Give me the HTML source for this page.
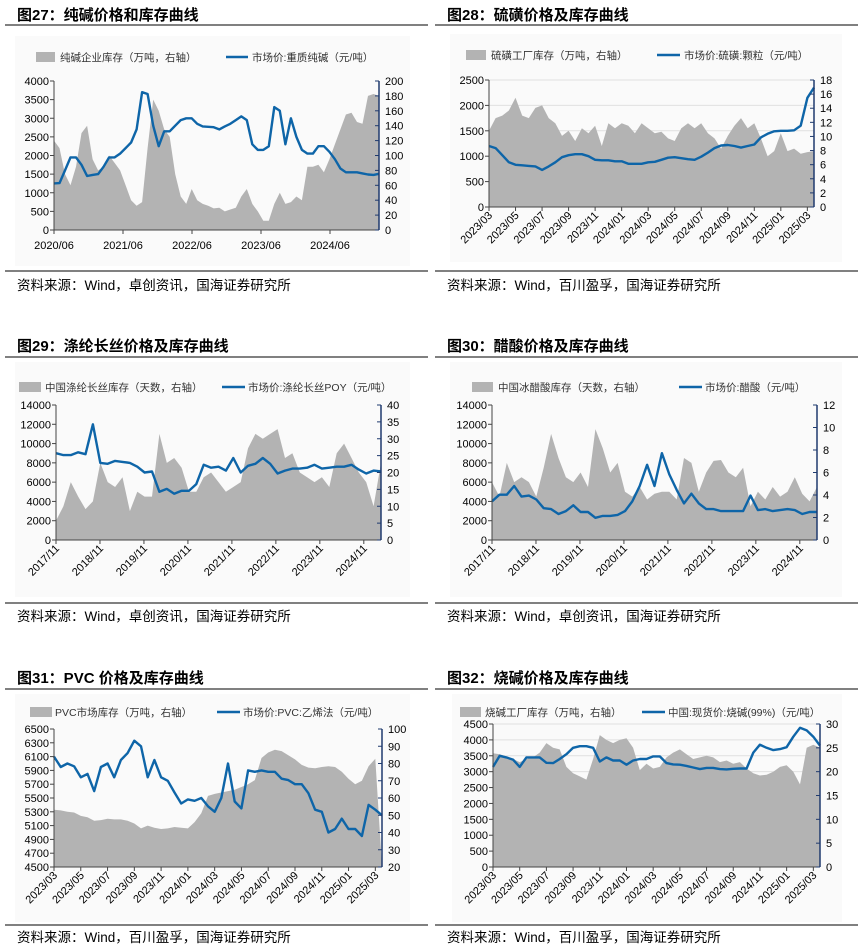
<!DOCTYPE html>
<html><head><meta charset="utf-8">
<style>
html,body{margin:0;padding:0;background:#fff;}
svg{display:block;font-family:"Liberation Sans","Noto Sans CJK SC",sans-serif;}
.t{font-weight:bold;font-size:15px;fill:#000;}
.src{font-size:13.5px;fill:#000;}
.lg{font-size:10.5px;fill:#333;}
.tk{font-size:11px;fill:#000;}
</style></head>
<body>
<svg id="c" width="861" height="947" viewBox="0 0 861 947" xmlns="http://www.w3.org/2000/svg"></svg>
<script>
// ---- Panel 27: soda ash ----
const p27Labels=["2020/06","2021/06","2022/06","2023/06","2024/06"];
const p27Price=[1250,1260,1600,1950,1950,1750,1450,1480,1500,1700,1950,1950,2050,2200,2350,2700,3700,3650,2800,2250,2650,2650,2800,2950,3000,3000,2850,2780,2770,2760,2700,2780,2850,2950,3050,2950,2300,2150,2150,2250,3300,3200,2300,3000,2500,2150,2050,2050,2250,2250,2100,1900,1650,1550,1550,1550,1520,1490,1480,1510];
const p27Stock=[2400,2200,1500,1200,1700,2600,2800,1900,1600,1700,2000,1800,1600,1200,800,650,750,2200,3500,3200,2700,2500,1500,900,700,1100,800,700,650,580,600,500,550,600,900,1100,700,500,250,250,700,1000,700,750,900,800,1700,1700,1750,1550,1900,2300,2700,3100,3150,2900,2850,3600,3650,3600];
const p27Left=[0,500,1000,1500,2000,2500,3000,3500,4000];
const p27Right=[0,20,40,60,80,100,120,140,160,180,200];
// ---- Panel 28: sulfur ----
const p28Labels=["2023/03","2023/05","2023/07","2023/09","2023/11","2024/01","2024/03","2024/05","2024/07","2024/09","2024/11","2025/01","2025/03"];
const p28Price=[1200,1160,1020,880,830,820,810,800,730,800,880,980,1020,1040,1040,1000,930,920,920,900,900,850,850,850,880,890,930,970,980,960,940,930,990,1070,1160,1210,1220,1200,1170,1200,1230,1370,1440,1490,1500,1500,1510,1600,2150,2350];
const p28Stock=[1500,1750,1800,1900,2150,1800,1750,1950,2000,1750,1650,1400,1500,1300,1550,1450,1600,1200,1650,1550,1650,1600,1450,1650,1550,1450,1480,1350,1300,1550,1650,1550,1650,1450,1350,1150,1400,1600,1750,1550,1650,1350,1000,1100,1450,1100,1150,1050,1080,1100];
const p28Left=[0,500,1000,1500,2000,2500];
const p28Right=[0,2,4,6,8,10,12,14,16,18];
// ---- Panel 29: polyester POY ----
const p29Labels=["2017/11","2018/11","2019/11","2020/11","2021/11","2022/11","2023/11","2024/11"];
const p29Price=[9000,8800,8800,9100,8900,12000,8000,7900,8200,8100,8000,7600,7000,7100,5000,5300,4800,5100,5100,5800,7800,7500,7600,7200,8500,7000,7700,7900,8500,7900,6900,7200,7400,7400,7500,7800,7400,7500,7600,7600,7800,7300,6900,7200,7100];
const p29Stock=[2000,3500,6000,4500,3200,4000,8000,6000,5500,6500,3000,5000,4500,4500,11000,8000,8500,7500,5000,5000,6500,7000,6000,5000,5500,6000,9500,11000,10500,11000,11500,8500,9000,7000,6500,6000,6500,5500,9000,10000,8500,7000,6000,3500,8000];
const p29Left=[0,2000,4000,6000,8000,10000,12000,14000];
const p29Right=[0,5,10,15,20,25,30,35,40];
// ---- Panel 30: acetic acid ----
const p30Labels=p29Labels;
const p30Price=[4000,4700,4700,5600,4500,4600,4200,3300,3200,2700,3000,3600,2900,2900,2300,2500,2500,2600,3000,4000,5600,7800,5600,9000,6800,5200,3800,4800,3800,3200,3200,3000,3000,3000,3000,4600,3100,3200,3000,3100,3200,3100,2700,2900,2900];
const p30Stock=[6000,4500,8000,6000,6500,6000,4500,7500,11000,8500,6500,6000,7000,5500,11500,9500,7000,8000,5000,4500,5500,4200,4800,5000,5000,4200,8500,8000,5000,7000,8200,8300,7000,6500,7500,3500,5000,4200,5500,4500,5000,6500,4800,4000,5500];
const p30Left=[0,2000,4000,6000,8000,10000,12000,14000];
const p30Right=[0,2,4,6,8,10,12];
// ---- Panel 31: PVC ----
const p31Labels=p28Labels;
const p31Price=[6100,5950,6000,5960,5800,5850,5600,5950,6000,5800,6050,6150,6330,6250,5800,6050,5800,5750,5580,5420,5480,5460,5500,5380,5300,5500,6000,5450,5350,5900,5880,5900,5880,5880,5780,5760,5700,5700,5570,5330,5300,5000,5050,5200,5050,5050,4950,5400,5330,5250];
const p31Stock=[5330,5320,5300,5290,5240,5220,5170,5180,5200,5190,5190,5170,5130,5060,5100,5070,5050,5060,5080,5070,5060,5150,5280,5530,5560,5580,5600,5620,5660,5700,5760,6080,6160,6200,6180,6120,6060,5980,5940,5930,5950,5960,5950,5880,5780,5700,5750,5960,6070,4500];
const p31Left=[4500,4700,4900,5100,5300,5500,5700,5900,6100,6300,6500];
const p31Right=[20,30,40,50,60,70,80,90,100];
// ---- Panel 32: caustic soda ----
const p32Labels=p28Labels;
const p32Price=[3150,3500,3450,3380,3150,3450,3450,3450,3280,3270,3400,3550,3750,3800,3800,3750,3320,3450,3350,3350,3220,3350,3400,3400,3480,3480,3270,3230,3220,3180,3130,3080,3120,3120,3080,3070,3090,3100,3100,3600,3850,3750,3680,3710,3770,4100,4380,4300,4100,3820];
const p32Stock=[3580,3550,3480,3400,3300,3400,3450,3600,3900,3750,3700,3150,2950,2850,2750,3400,4150,4000,3900,4000,4050,3750,3050,3250,3100,3150,3450,3600,3700,3550,3400,3450,3500,3450,3300,3350,3250,3300,3100,2950,2880,2900,3000,3150,3200,3000,2600,3750,3850,3750];
const p32Left=[0,500,1000,1500,2000,2500,3000,3500,4000,4500];
const p32Right=[0,5,10,15,20,25,30];

const NS="http://www.w3.org/2000/svg";
const svg=document.getElementById('c');
function mk(tag,attrs,parent,text){const e=document.createElementNS(NS,tag);for(const k in attrs)e.setAttribute(k,attrs[k]);if(text!==undefined)e.textContent=text;(parent||svg).appendChild(e);return e;}

const panels=[
 {id:'27',title:'图27：纯碱价格和库存曲线',ox:0,titleY:20,ruleY:25,srcRuleY:271,srcY:290,src:'资料来源：Wind，卓创资讯，国海证券研究所',
  bg:[15,36,395,230],L:54,R:379,T:81,B:230,lmin:0,lmax:4000,rmin:0,rmax:200,left:p27Left,right:p27Right,price:p27Price,stock:p27Stock,labels:p27Labels,rot:false,
  lgY:57,sw:[36,55],swText:60,ln:[226,248],lnText:252,lgA:'纯碱企业库存（万吨，右轴）',lgB:'市场价:重质纯碱（元/吨）'},
 {id:'28',title:'图28：硫磺价格及库存曲线',ox:430,titleY:20,ruleY:25,srcRuleY:271,srcY:290,src:'资料来源：Wind，百川盈孚，国海证券研究所',
  bg:[450,34,392,228],L:489,R:814,T:80,B:207,lmin:0,lmax:2500,rmin:0,rmax:18,left:p28Left,right:p28Right,price:p28Price,stock:p28Stock,labels:p28Labels,rot:true,
  lgY:55,sw:[466,486],swText:491,ln:[657,680],lnText:684,lgA:'硫磺工厂库存（万吨，右轴）',lgB:'市场价:硫磺:颗粒（元/吨）',grid:true},
 {id:'29',title:'图29：涤纶长丝价格及库存曲线',ox:0,titleY:351,ruleY:357,srcRuleY:603,srcY:621,src:'资料来源：Wind，卓创资讯，国海证券研究所',
  bg:[15,362,395,235],L:56,R:381,T:405,B:540,lmin:0,lmax:14000,rmin:0,rmax:40,left:p29Left,right:p29Right,price:p29Price,stock:p29Stock,labels:p29Labels,rot:true,
  lgY:387,sw:[19,41],swText:45,ln:[222,245],lnText:248,lgA:'中国涤纶长丝库存（天数，右轴）',lgB:'市场价:涤纶长丝POY（元/吨）'},
 {id:'30',title:'图30：醋酸价格及库存曲线',ox:430,titleY:351,ruleY:357,srcRuleY:603,srcY:621,src:'资料来源：Wind，卓创资讯，国海证券研究所',
  bg:[450,362,392,235],L:492,R:817,T:405,B:540,lmin:0,lmax:14000,rmin:0,rmax:12,left:p30Left,right:p30Right,price:p30Price,stock:p30Stock,labels:p30Labels,rot:true,
  lgY:387,sw:[472,493],swText:498,ln:[679,702],lnText:705,lgA:'中国冰醋酸库存（天数，右轴）',lgB:'市场价:醋酸（元/吨）'},
 {id:'31',title:'图31：PVC 价格及库存曲线',ox:0,titleY:683,ruleY:689,srcRuleY:925,srcY:942,src:'资料来源：Wind，百川盈孚，国海证券研究所',
  bg:[15,694,395,228],L:54,R:382,T:729,B:867,lmin:4500,lmax:6500,rmin:20,rmax:100,left:p31Left,right:p31Right,price:p31Price,stock:p31Stock,labels:p31Labels,rot:true,
  lgY:712,sw:[30,52],swText:55,ln:[217,240],lnText:243,lgA:'PVC市场库存（万吨，右轴）',lgB:'市场价:PVC:乙烯法（元/吨）'},
 {id:'32',title:'图32：烧碱价格及库存曲线',ox:430,titleY:683,ruleY:689,srcRuleY:925,srcY:942,src:'资料来源：Wind，百川盈孚，国海证券研究所',
  bg:[452,694,390,228],L:493,R:820,T:724,B:867,lmin:0,lmax:4500,rmin:0,rmax:30,left:p32Left,right:p32Right,price:p32Price,stock:p32Stock,labels:p32Labels,rot:true,
  lgY:712,sw:[460,481],swText:485,ln:[642,665],lnText:668,lgA:'烧碱工厂库存（万吨，右轴）',lgB:'中国:现货价:烧碱(99%)（元/吨）',grid:true}
];

panels.forEach(p=>{
  const g=mk('g',{});
  
  
  const x0=p.ox;
  const tt=mk('text',{x:x0+17,y:p.titleY,class:'t'},g,p.title);
  
  
  mk('line',{x1:x0+5,x2:x0+428,y1:p.ruleY,y2:p.ruleY,stroke:'#000','stroke-width':1},g);
  mk('rect',{x:p.bg[0],y:p.bg[1],width:p.bg[2],height:p.bg[3],fill:'#fafafa'},g);
  const ys=v=>p.B-(v-p.lmin)/(p.lmax-p.lmin)*(p.B-p.T);
  const yr=v=>p.B-(v-p.rmin)/(p.rmax-p.rmin)*(p.B-p.T);
  const n=p.price.length;
  const xs=i=>p.L+i/(n-1)*(p.R-p.L);
  const ns=p.stock.length;
  const xa=i=>p.L+i/(ns-1)*(p.R-p.L);
  if(p.grid){p.left.forEach(v=>{if(v>p.lmin)mk('line',{x1:p.L,x2:p.R,y1:ys(v),y2:ys(v),stroke:'#e0e0e0','stroke-width':1},g);});}
  let d='M'+xa(0)+','+p.B;
  p.stock.forEach((v,i)=>{d+=' L'+xa(i).toFixed(1)+','+ys(v).toFixed(1);});
  d+=' L'+xa(ns-1)+','+p.B+' Z';
  const ar=mk('path',{d:d,fill:'#b3b3b3'},g);
  
  
  let ld='';
  p.price.forEach((v,i)=>{ld+=(i?' L':'M')+xs(i).toFixed(1)+','+ys(v).toFixed(1);});
  const pl=mk('path',{d:ld,fill:'none',stroke:'#0e65a8','stroke-width':2.4,'stroke-linejoin':'round'},g);
  
  
  mk('line',{x1:p.L,x2:p.L,y1:p.T,y2:p.B,stroke:'#444','stroke-width':1},g);
  mk('line',{x1:p.L,x2:p.R,y1:p.B,y2:p.B,stroke:'#444','stroke-width':1},g);
  mk('line',{x1:p.R,x2:p.R,y1:p.T,y2:p.B,stroke:'#1f3a6e','stroke-width':1.5},g);
  p.left.forEach(v=>{
    mk('line',{x1:p.L-4,x2:p.L,y1:ys(v),y2:ys(v),stroke:'#444'},g);
    const t=mk('text',{x:p.L-5,y:ys(v)+4,'text-anchor':'end',class:'tk'},g,String(v));
    
    
  });
  p.right.forEach(v=>{
    mk('line',{x1:p.R-4,x2:p.R,y1:yr(v),y2:yr(v),stroke:'#1f3a6e'},g);
    const t=mk('text',{x:p.R+6,y:yr(v)+4,class:'tk'},g,String(v));
    
    
  });
  p.labels.forEach((lab,i)=>{
    let x;
    if(p.rot){x=p.L+i*(p.R-p.L-4)/((p.id==='29'||p.id==='30')?7.3:12.1);}
    else{x=p.L+i*69;}
    mk('line',{x1:x,x2:x,y1:p.B,y2:p.B+4,stroke:'#444'},g);
    let t;
    if(p.rot){t=mk('text',{'text-anchor':'end',class:'tk',transform:'translate('+(x+4)+','+(p.B+9)+') rotate(-45)'},g,lab);}
    else{t=mk('text',{x:x,y:p.B+19,'text-anchor':'middle',class:'tk'},g,lab);}
    
    
  });
  const sw=mk('rect',{x:p.sw[0],y:p.lgY-5,width:p.sw[1]-p.sw[0],height:10,fill:'#b3b3b3'},g);
  
  
  const la=mk('text',{x:p.swText,y:p.lgY+4,class:'lg'},g,p.lgA);
  
  
  mk('line',{x1:p.ln[0],x2:p.ln[1],y1:p.lgY,y2:p.lgY,stroke:'#0e65a8','stroke-width':2.6},g);
  const lb=mk('text',{x:p.lnText,y:p.lgY+4,class:'lg'},g,p.lgB);
  
  
  mk('line',{x1:x0+5,x2:x0+428,y1:p.srcRuleY,y2:p.srcRuleY,stroke:'#000','stroke-width':1},g);
  const st=mk('text',{x:x0+17,y:p.srcY,class:'src'},g,p.src);
  
  
});
</script>
</body></html>
